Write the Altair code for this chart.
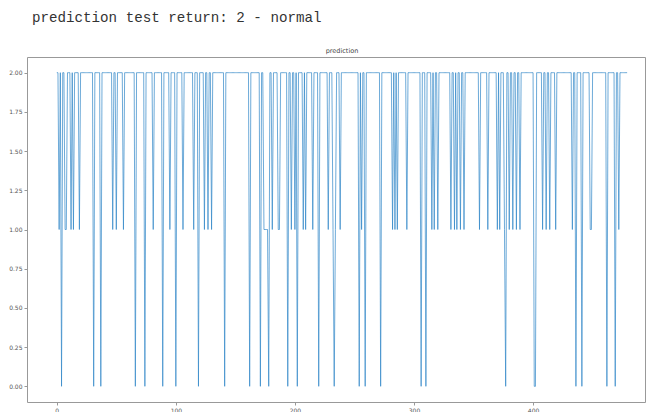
import altair as alt
import pandas as pd

heading = "prediction test return: 2 - normal"
plot_title = "prediction"

# predicted class for each test step (40 steps per row)
series_rows = [
    "2212022112" "2212122221" "2222222222" "2022222022",
    "2222222122" "1222221222" "2222220222" "2222022222",
    "2122222220" "2222212222" "0222221222" "2222212220",
    "2222122122" "1222222222" "2022222222" "2222222222",
    "2202222222" "2022111102" "2122221122" "2222022122",
    "1202222121" "2222212222" "0222222212" "2210122212",
    "2222222222" "2222021220" "2222222222" "2202222222",
    "2212121222" "2222122222" "2222220222" "0222212122",
    "1222222222" "2122121221" "2212222222" "2222212222",
    "2212222222" "1212221022" "1221221221" "2222222222",
    "2002222212" "2122122221" "2222222222" "2221220222",
    "2022222211" "2222222222" "2202222220" "2212222222",
]
x_ticks = [0, 100, 200, 300, 400]
y_ticks = [0.0, 0.25, 0.5, 0.75, 1.0, 1.25, 1.5, 1.75, 2.0]

values = [int(c) for c in "".join(series_rows)]
df = pd.DataFrame({"step": list(range(len(values))), "prediction": values})

axis_common = dict(
    title=None, grid=False, domain=False, labelFontSize=6, labelFont="DejaVu Sans",
    labelColor="#555555", tickColor="#999999", tickSize=3, labelPadding=2,
)

line = alt.Chart(df).mark_line(color="#2f86c8", strokeWidth=1, opacity=0.7).encode(
    x=alt.X("step:Q", scale=alt.Scale(domain=[-25, 494], nice=False, zero=False),
            axis=alt.Axis(values=x_ticks, **axis_common)),
    y=alt.Y("prediction:Q", scale=alt.Scale(domain=[-0.1, 2.1], nice=False),
            axis=alt.Axis(values=y_ticks, format=".2f", **axis_common)),
)

head = alt.Chart(pd.DataFrame({"t": [heading]})).mark_text(
    align="left", baseline="middle", font="Liberation Mono", fontSize=14.2, color="#333333"
).encode(text="t:N", x=alt.value(5), y=alt.value(-39))

sub = alt.Chart(pd.DataFrame({"t": [plot_title]})).mark_text(
    align="center", baseline="bottom", font="DejaVu Sans", fontSize=6.5, color="#444444"
).encode(text="t:N", x=alt.value(315), y=alt.value(-3))

chart = alt.layer(line, head, sub).properties(
    width=618, height=345,
    autosize=alt.AutoSizeParams(type="none"),
    padding={"left": 19, "top": 49, "right": 1, "bottom": 10},
).configure_view(stroke="#999999", strokeWidth=1)

chart.save("out.html", embed_options={"renderer": "svg", "actions": False})
